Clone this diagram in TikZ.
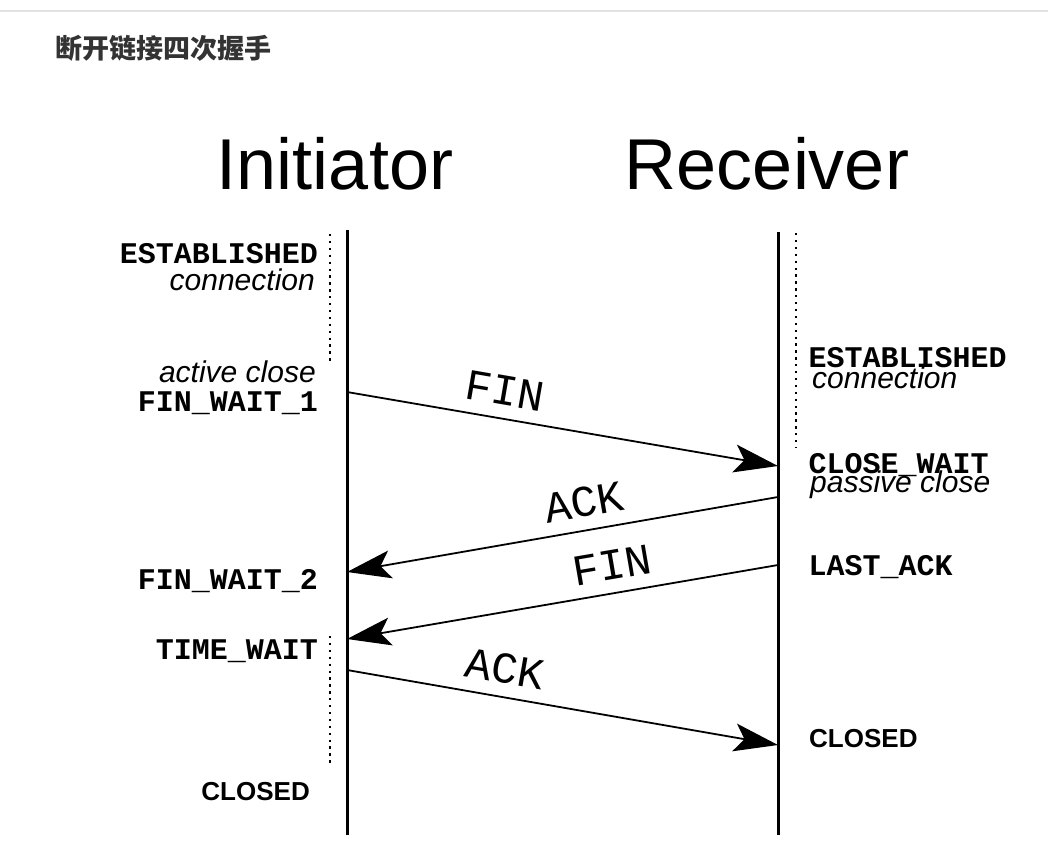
\documentclass[tikz,border=0pt]{standalone}
\usepackage{fontspec}
\setmainfont{Liberation Sans}
\setmonofont{Liberation Mono}
\newfontfamily\cjk{Noto Sans CJK SC}
\usetikzlibrary{arrows.meta}
\definecolor{titlegray}{HTML}{333333}
\definecolor{rulegray}{HTML}{E2E2E2}
\tikzset{
  msg/.style={line width=1.8pt,-{Stealth[length=44pt,width=28pt,inset=10pt]}},
  msglabel/.style={sloped,above=9pt,font=\fontsize{44}{44}\selectfont\ttfamily},
  statelbl/.style={inner sep=0pt,font=\fontsize{30}{30}\selectfont\ttfamily\bfseries},
  notelbl/.style={inner sep=0pt,font=\fontsize{30}{30}\selectfont\itshape},
  closedlbl/.style={inner sep=0pt,font=\fontsize{26}{26}\selectfont\bfseries},
  waitline/.style={line width=2.5pt,dash pattern=on 2.3pt off 4.6pt},
}
\begin{document}
\begin{tikzpicture}[x=1pt,y=-1pt]
\useasboundingbox (0,0) rectangle (1048,843);
\draw[rulegray,line width=1.5pt] (0,11) -- (1048,11);
\node[anchor=base west,inner sep=0pt,text=titlegray,font=\cjk\bfseries\fontsize{27}{27}\selectfont] (title) at (55,59) {断开链接四次握手};
% the two ends
\node[anchor=base,inner sep=0pt,font=\fontsize{72}{72}\selectfont] (init) at (335,189) {Initiator};
\node[anchor=base,inner sep=0pt,font=\fontsize{72}{72}\selectfont] (recv) at (767,189) {Receiver};
\draw[line width=3pt] (347,230) coordinate (itop) -- (347,835) coordinate (ibot);
\draw[line width=3pt] (778,232) coordinate (rtop) -- (778,835) coordinate (rbot);
\draw[waitline] (330,234) -- (330,364);
\draw[waitline] (330,636) -- (330,767);
\draw[waitline] (796,233) -- (796,448);
% messages
\coordinate (i1) at (347,392); \coordinate (r1) at (778,466);
\coordinate (r2) at (778,497); \coordinate (i2) at (347,572);
\coordinate (r3) at (778,565); \coordinate (i3) at (347,639);
\coordinate (i4) at (347,670); \coordinate (r4) at (778,745);
\foreach \from/\to/\lbl/\p in {i1/r1/FIN/0.355, r2/i2/ACK/0.44, r3/i3/FIN/0.375, i4/r4/ACK/0.355}
  \draw[msg] (\from) -- node[msglabel,pos=\p] {\lbl} (\to);
% states of the initiator
\foreach \y/\txt in {263/ESTABLISHED, 411/FIN\_WAIT\_1, 589/FIN\_WAIT\_2, 659/TIME\_WAIT}
  \node[statelbl,anchor=base east] (l\y) at (318,\y) {\txt};
\node[notelbl,anchor=base east] (lconn) at (315,290) {connection};
\node[notelbl,anchor=base east] (lactive) at (316,382) {active close};
\node[closedlbl,anchor=base east] (lclosed) at (310,800) {CLOSED};
% states of the receiver
\foreach \y/\txt in {367/ESTABLISHED, 473/CLOSE\_WAIT, 575/LAST\_ACK}
  \node[statelbl,anchor=base west] (r\y) at (808.5,\y) {\txt};
\node[notelbl,anchor=base west] (rconn) at (812,388) {connection};
\node[notelbl,anchor=base west] (rpassive) at (810,492) {passive close};
\node[closedlbl,anchor=base west] (rclosed) at (809,747) {CLOSED};
\end{tikzpicture}
\end{document}
